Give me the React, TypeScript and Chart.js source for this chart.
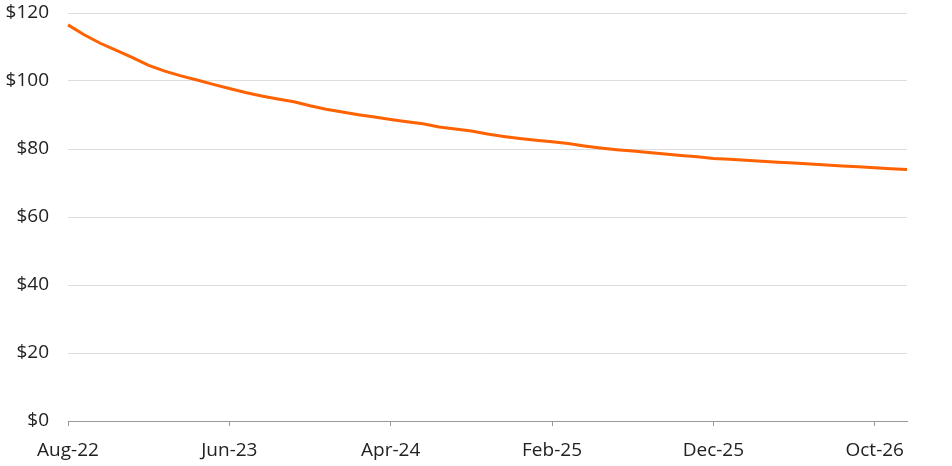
import React, { useEffect, useRef } from "react";
import { Chart, registerables } from "chart.js";

Chart.register(...registerables);

const months: string[] = [
  "Aug-22", "Sep-22", "Oct-22", "Nov-22", "Dec-22",
  "Jan-23", "Feb-23", "Mar-23", "Apr-23", "May-23", "Jun-23", "Jul-23", "Aug-23", "Sep-23", "Oct-23", "Nov-23", "Dec-23",
  "Jan-24", "Feb-24", "Mar-24", "Apr-24", "May-24", "Jun-24", "Jul-24", "Aug-24", "Sep-24", "Oct-24", "Nov-24", "Dec-24",
  "Jan-25", "Feb-25", "Mar-25", "Apr-25", "May-25", "Jun-25", "Jul-25", "Aug-25", "Sep-25", "Oct-25", "Nov-25", "Dec-25",
  "Jan-26", "Feb-26", "Mar-26", "Apr-26", "May-26", "Jun-26", "Jul-26", "Aug-26", "Sep-26", "Oct-26", "Nov-26", "Dec-26",
];

const prices: number[] = [
  116.5, 113.6, 111.1, 109.0, 106.9,
  104.6, 102.9, 101.5, 100.3, 99.0, 97.8, 96.6, 95.6, 94.7, 93.9, 92.7, 91.7,
  90.9, 90.1, 89.4, 88.7, 88.0, 87.4, 86.5, 85.9, 85.3, 84.4, 83.7, 83.1,
  82.6, 82.1, 81.6, 80.9, 80.3, 79.8, 79.4, 79.0, 78.5, 78.1, 77.7, 77.2,
  77.0, 76.7, 76.4, 76.1, 75.9, 75.6, 75.3, 75.0, 74.8, 74.5, 74.2, 74.0,
];

const tickLabels: string[] = ["Aug-22", "Jun-23", "Apr-24", "Feb-25", "Dec-25", "Oct-26"];

const FONT = "'Open Sans', sans-serif";

export default function App() {
  const ref = useRef<HTMLCanvasElement | null>(null);

  useEffect(() => {
    if (!ref.current) return;
    const chart = new Chart(ref.current, {
      type: "line",
      data: {
        labels: months,
        datasets: [
          {
            data: prices,
            borderColor: "#FF6200",
            borderWidth: 3,
            pointRadius: 0,
            tension: 0,
            fill: false,
          },
        ],
      },
      options: {
        animation: false,
        responsive: true,
        maintainAspectRatio: false,
        layout: { padding: { top: 13, right: 45, left: 0, bottom: 0 } },
        plugins: { legend: { display: false }, tooltip: { enabled: false } },
        scales: {
          x: {
            type: "category",
            offset: false,
            grid: {
              drawOnChartArea: false,
              drawTicks: true,
              tickLength: 5,
              color: "#999",
            },
            border: { display: true, color: "#999", width: 1 },
            ticks: {
              autoSkip: false,
              maxRotation: 0,
              padding: 13,
              color: "#222",
              font: { family: FONT, size: 19 },
              callback: function (_v: any, i: number) {
                const l = months[i];
                return tickLabels.includes(l) ? l : null;
              },
            },
            afterFit: (axis: any) => {
              axis.height = 45;
              axis.paddingLeft = 0;
              axis.paddingRight = 0;
            },
          },
          y: {
            min: 0,
            max: 120,
            grid: { color: "#dddddd", drawTicks: false },
            border: { display: false },
            ticks: {
              stepSize: 20,
              padding: 19,
              color: "#222",
              font: { family: FONT, size: 19 },
              callback: (v: any) => "$" + v,
            },
            afterFit: (axis: any) => {
              axis.width = 68;
              axis.paddingTop = 0;
              axis.paddingBottom = 0;
            },
          },
        },
      },
    });
    return () => chart.destroy();
  }, []);

  return (
    <div style={{ position: "fixed", left: 0, top: 0, width: 952, height: 466, background: "#fff" }}>
      <canvas ref={ref} />
    </div>
  );
}
